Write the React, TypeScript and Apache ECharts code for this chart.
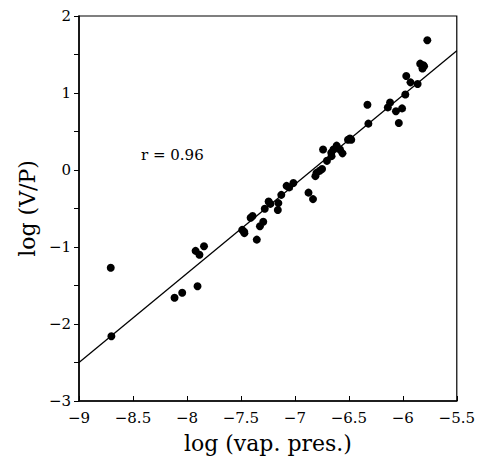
import React, { useEffect, useRef } from "react";
import * as echarts from "echarts";

const pointsX = [
  -8.706, -8.70, -8.115, -8.044, -7.902, -7.92, -7.884, -7.842,
  -7.488, -7.468, -7.47, -7.353, -7.324, -7.293, -7.392, -7.41, -7.279, -7.243, -7.227,
  -7.153, -7.158, -7.126, -7.077, -7.053, -7.014, -6.874, -6.832,
  -6.80, -6.81, -6.748, -6.77, -6.703, -6.739, -6.663, -6.643, -6.613, -6.582, -6.559, -6.66,
  -6.508, -6.478, -6.49, -6.319, -6.328,
  -6.118, -6.139, -6.064, -6.007, -6.037, -5.977, -5.863, -5.968, -5.929,
  -5.839, -5.803, -5.818, -5.81, -5.773,
];
const pointsY = [
  -1.27, -2.16, -1.66, -1.595, -1.51, -1.05, -1.10, -0.99,
  -0.778, -0.82, -0.80, -0.904, -0.73, -0.673, -0.597, -0.62, -0.504, -0.41, -0.44,
  -0.43, -0.52, -0.323, -0.206, -0.226, -0.168, -0.294, -0.378,
  -0.037, -0.08, 0.014, -0.01, 0.119, 0.266, 0.224, 0.266, 0.317, 0.266, 0.216, 0.18,
  0.393, 0.393, 0.41, 0.602, 0.847,
  0.876, 0.813, 0.763, 0.80, 0.611, 0.981, 1.116, 1.221, 1.138,
  1.381, 1.348, 1.318, 1.36, 1.684,
];
const fitX = [-9, -5.5];
const fitY = [-2.5, 1.55];

const xTitle = "log (vap. pres.)";
const yTitle = "log (V/P)";
const annotation = "r = 0.96";

const FONT = "DejaVu Serif";

export default function App() {
  const ref = useRef<HTMLDivElement>(null);
  useEffect(() => {
    if (!ref.current) return;
    const chart = echarts.init(ref.current, undefined, { renderer: "svg" });
    const fmt = (v: number) => String(v).replace("-", "\u2212");
    chart.setOption({
      animation: false,
      backgroundColor: "#fff",
      grid: {
        left: 65,
        right: 16,
        top: 8,
        bottom: 47,
        show: true,
        borderColor: "#000",
        borderWidth: 1.2,
      },
      xAxis: {
        type: "value",
        min: -9,
        max: -5.5,
        interval: 0.5,
        name: xTitle,
        nameLocation: "middle",
        nameGap: 31,
        nameTextStyle: { fontFamily: FONT, fontSize: 22, color: "#000" },
        axisLine: { onZero: false, lineStyle: { color: "#000", width: 1.5 } },
        axisTick: { inside: true, length: 5, lineStyle: { color: "#000" } },
        axisLabel: {
          fontFamily: FONT,
          fontSize: 15,
          color: "#000",
          margin: 9,
          formatter: fmt,
        },
        splitLine: { show: false },
      },
      yAxis: {
        type: "value",
        min: -3,
        max: 2,
        interval: 0.5,
        name: yTitle,
        nameLocation: "middle",
        nameGap: 40,
        nameTextStyle: { fontFamily: FONT, fontSize: 22, color: "#000" },
        axisLine: { onZero: false, lineStyle: { color: "#000", width: 1.5 } },
        axisTick: { inside: false, length: 5, lineStyle: { color: "#000" } },
        axisLabel: {
          fontFamily: FONT,
          fontSize: 15,
          color: "#000",
          margin: 8,
          formatter: (v: number) => (Number.isInteger(v) ? fmt(v) : ""),
        },
        splitLine: { show: false },
      },
      graphic: [
        {
          type: "text",
          left: 133,
          top: 139,
          style: { text: annotation, fontFamily: FONT, fontSize: 15, fill: "#000" },
        },
      ],
      series: [
        {
          type: "line",
          data: fitX.map((x, i) => [x, fitY[i]]),
          showSymbol: false,
          lineStyle: { color: "#000", width: 1.3 },
          silent: true,
        },
        {
          type: "scatter",
          data: pointsX.map((x, i) => [x, pointsY[i]]),
          symbolSize: 8,
          itemStyle: { color: "#000", opacity: 1 },
        },
      ],
    });
    return () => chart.dispose();
  }, []);
  return <div ref={ref} style={{ width: 470, height: 451 }} />;
}
